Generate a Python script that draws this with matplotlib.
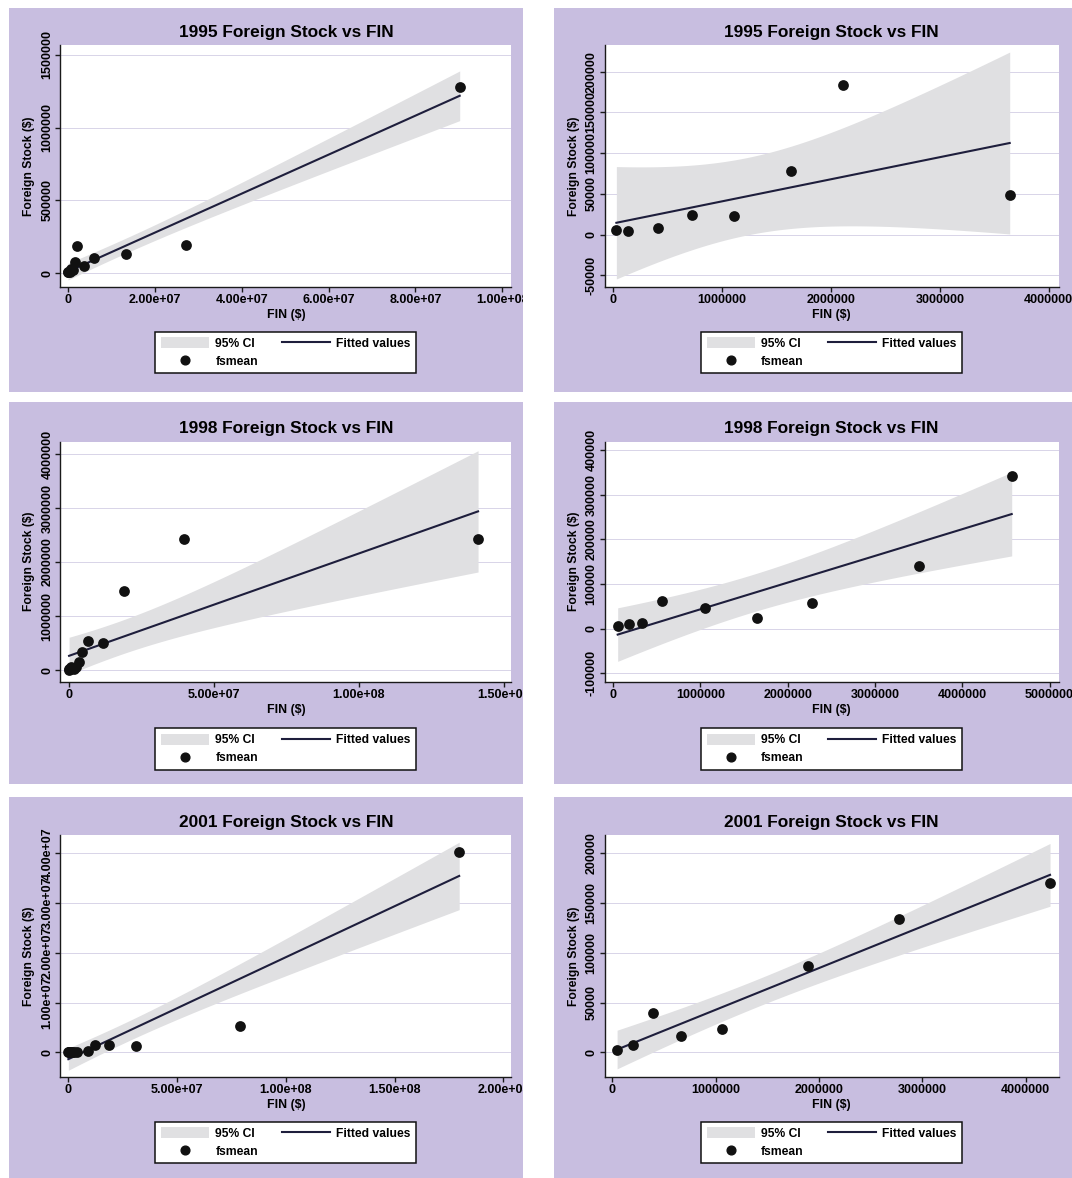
import numpy as np
import matplotlib
matplotlib.use("Agg")
import matplotlib.pyplot as plt
from matplotlib.patches import Rectangle, Patch
from matplotlib.lines import Line2D

plt.rcParams['font.family'] = ['Liberation Sans', 'DejaVu Sans']

# Foreign stock means (fsmean) against FIN, one set per year
fin_1995 = [31000, 137000, 414000, 729000, 1112000, 1635000, 2115000, 3642000,
            6100000, 13400000, 27200000, 90200000]
fs_1995 = [6150, 4500, 7800, 24600, 22500, 77500, 183600, 49200,
           103000, 133000, 190000, 1278000]

fin_1998 = [54000, 187000, 330000, 567000, 1053000, 1652000, 2277000, 3509000, 4567000,
            6540000, 11780000, 19150000, 39730000, 141100000]
fs_1998 = [5900, 10400, 11900, 61500, 46700, 24400, 58500, 140000, 342200,
           543000, 506000, 1463000, 2432000, 2432000]

fin_2001 = [46000, 198000, 395000, 665000, 1060000, 1890000, 2779000, 4237000,
            9050000, 12380000, 18730000, 30950000, 79050000, 179700000]
fs_2001 = [2345, 7035, 39530, 16080, 23450, 86770, 134000, 169850,
           330000, 1470000, 1410000, 1340000, 5290000, 40300000]

years = ['1995', '1998', '2001']
fin_all = [fin_1995, fin_1998, fin_2001]
fs_all = [fs_1995, fs_1998, fs_2001]
small_cut = 5e6   # right-hand panels only keep the small FIN values

# tick values and labels, (left panel, right panel) per year
xticks = [
    ([0, 2e7, 4e7, 6e7, 8e7, 1e8], ['0', '2.00e+07', '4.00e+07', '6.00e+07', '8.00e+07', '1.00e+08']),
    ([0, 1e6, 2e6, 3e6, 4e6], ['0', '1000000', '2000000', '3000000', '4000000']),
    ([0, 5e7, 1e8, 1.5e8], ['0', '5.00e+07', '1.00e+08', '1.50e+08']),
    ([0, 1e6, 2e6, 3e6, 4e6, 5e6], ['0', '1000000', '2000000', '3000000', '4000000', '5000000']),
    ([0, 5e7, 1e8, 1.5e8, 2e8], ['0', '5.00e+07', '1.00e+08', '1.50e+08', '2.00e+08']),
    ([0, 1e6, 2e6, 3e6, 4e6], ['0', '1000000', '2000000', '3000000', '4000000']),
]
yticks = [
    ([0, 5e5, 1e6, 1.5e6], ['0', '500000', '1000000', '1500000']),
    ([-5e4, 0, 5e4, 1e5, 1.5e5, 2e5], ['-50000', '0', '50000', '100000', '150000', '200000']),
    ([0, 1e6, 2e6, 3e6, 4e6], ['0', '1000000', '2000000', '3000000', '4000000']),
    ([-1e5, 0, 1e5, 2e5, 3e5, 4e5], ['-100000', '0', '100000', '200000', '300000', '400000']),
    ([0, 1e7, 2e7, 3e7, 4e7], ['0', '1.00e+07', '2.00e+07', '3.00e+07', '4.00e+07']),
    ([0, 5e4, 1e5, 1.5e5, 2e5], ['0', '50000', '100000', '150000', '200000']),
]
xlims = [(-1.74e6, 1.021e8), (-7.8e4, 4.09e6), (-2.97e6, 1.526e8),
         (-9.7e4, 5.103e6), (-3.65e6, 2.037e8), (-7.6e4, 4.319e6)]
ylims = [(-9.6e4, 1.568e6), (-6.43e4, 2.328e5), (-2.16e5, 4.228e6),
         (-1.185e5, 4.185e5), (-4.89e6, 4.367e7), (-2.45e4, 2.184e5)]

# 97.5% t quantiles by degrees of freedom
t975 = {5: 2.571, 6: 2.447, 7: 2.365, 8: 2.306, 9: 2.262, 10: 2.228,
        11: 2.201, 12: 2.179, 13: 2.160, 14: 2.145}

PURPLE = '#c8bee0'
CI_COL = '#e0e0e2'
LINE_COL = '#1e1e3c'
DOT_COL = '#111111'

W, H = 1072, 1178
fig = plt.figure(figsize=(W / 100, H / 100), dpi=100)
fig.patch.set_facecolor('white')


def frect(x0, y0, x1, y1):
    return [x0 / W, 1 - y1 / H, (x1 - x0) / W, (y1 - y0) / H]


col_panel = [(8.6, 523), (553.6, 1072)]
row_panel = [(8, 392), (402, 784), (797, 1178)]
col_plot = [(60.3, 511.4), (604.5, 1058.5)]
row_plot = [(45, 287), (441.7, 681.7), (835, 1076.7)]

for (px0, px1) in col_panel:
    for (py0, py1) in row_panel:
        r = frect(px0, py0, px1, py1)
        fig.add_artist(Rectangle((r[0], r[1]), r[2], r[3], transform=fig.transFigure,
                                 facecolor=PURPLE, edgecolor='none', zorder=-5))

bold = dict(fontweight='bold')


def lfitci(x, y):
    x = np.asarray(x, float)
    y = np.asarray(y, float)
    n = len(x)
    xm, ym = x.mean(), y.mean()
    sxx = ((x - xm) ** 2).sum()
    b = ((x - xm) * (y - ym)).sum() / sxx
    a = ym - b * xm
    s = np.sqrt(((y - a - b * x) ** 2).sum() / (n - 2))
    g = np.linspace(x.min(), x.max(), 200)
    fit = a + b * g
    half = t975[n - 2] * s * np.sqrt(1 / n + (g - xm) ** 2 / sxx)
    return g, fit, fit - half, fit + half


k = 0
for i, yr in enumerate(years):
    fin = np.array(fin_all[i], float)
    fs = np.array(fs_all[i], float)
    for j in range(2):
        if j == 0:
            x, y = fin, fs
        else:
            keep = fin < small_cut
            x, y = fin[keep], fs[keep]
        x0, x1 = col_plot[j]
        y0, y1 = row_plot[i]
        w, h = x1 - x0, y1 - y0
        ax = fig.add_axes(frect(x0, y0, x1, y1))
        ax.set_facecolor('white')

        g, fit, lo, hi = lfitci(x, y)
        ax.fill_between(g, lo, hi, color=CI_COL, lw=0, zorder=2)
        ax.plot(g, fit, color=LINE_COL, lw=1.5, zorder=3)
        ax.scatter(x, y, s=60, color=DOT_COL, zorder=4, linewidths=0)

        ax.set_xlim(*xlims[k])
        ax.set_ylim(*ylims[k])
        ax.set_xticks(xticks[k][0], xticks[k][1])
        ax.set_yticks(yticks[k][0], yticks[k][1])
        for v in yticks[k][0]:
            ax.axhline(v, color='#d8d4e8', lw=0.7, zorder=1)

        for sp in ['top', 'right']:
            ax.spines[sp].set_visible(False)
        for sp in ['left', 'bottom']:
            ax.spines[sp].set_linewidth(1.0)
            ax.spines[sp].set_color('#1a1a1a')
        ax.tick_params(length=3.5, width=1.0, color='#1a1a1a', labelsize=9, pad=1.5)
        ax.tick_params(axis='y', labelrotation=90)
        for lab in ax.get_yticklabels():
            lab.set_fontweight('bold')
            lab.set_va('center')
        for lab in ax.get_xticklabels():
            lab.set_fontweight('bold')

        ax.text(0.5, 1 + 13 / h, yr + ' Foreign Stock vs FIN', transform=ax.transAxes,
                ha='center', va='center', fontsize=12.4, **bold)
        ax.text(0.5, -28 / h, 'FIN ($)', transform=ax.transAxes,
                ha='center', va='center', fontsize=8.9, **bold)
        ax.text(-31 / w, 0.5, 'Foreign Stock ($)', transform=ax.transAxes, rotation=90,
                ha='center', va='center', fontsize=8.7, **bold)

        handles = [Patch(facecolor=CI_COL, edgecolor='none'),
                   Line2D([], [], marker='o', ls='none', color=DOT_COL, markersize=6.3),
                   Line2D([], [], color=LINE_COL, lw=1.5)]
        labels = ['95% CI', 'fsmean', 'Fitted values']
        leg = ax.legend(handles, labels, ncol=2, loc='center',
                        bbox_to_anchor=((x0 + x1) / 2 / W, 1 - (y0 + 307.5) / H),
                        bbox_transform=fig.transFigure, frameon=True, fancybox=False,
                        edgecolor='#111111', framealpha=1, handlelength=4.0, handleheight=1.0,
                        handletextpad=0.5, columnspacing=2.0, labelspacing=0.45,
                        borderpad=0.45, borderaxespad=0,
                        prop=dict(size=8.7, weight='bold'))
        leg.get_frame().set_linewidth(1.1)
        k += 1

# white gutters between the panels
for (gx0, gy0, gx1, gy1) in [(523, 0, 553.6, H), (0, 0, W, 8), (0, 392, W, 402),
                             (0, 784, W, 797), (0, 0, 8.6, H)]:
    r = frect(gx0, gy0, gx1, gy1)
    fig.add_artist(Rectangle((r[0], r[1]), r[2], r[3], transform=fig.transFigure,
                             facecolor='white', edgecolor='none', zorder=20))

fig.savefig('out.png', dpi=100)
